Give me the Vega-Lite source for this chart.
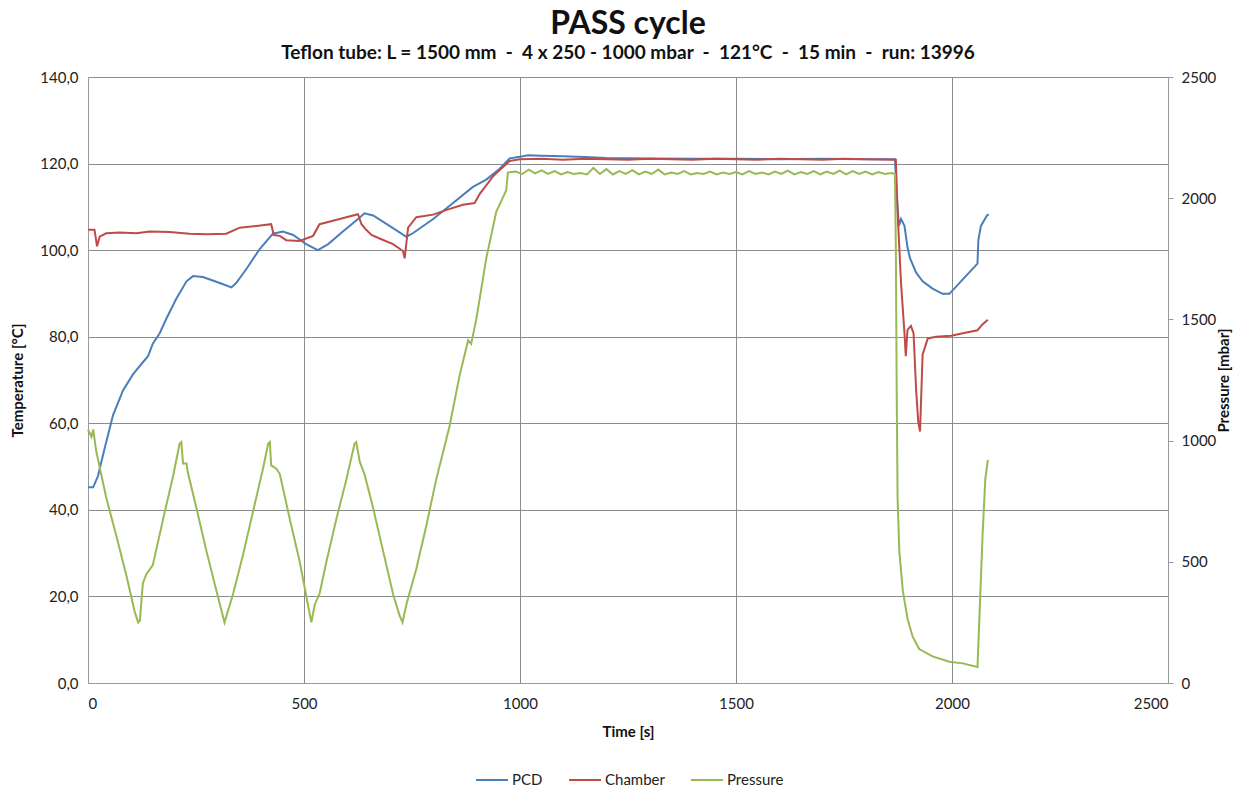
{
  "$schema": "https://vega.github.io/schema/vega-lite/v6.json",
  "width": 1080,
  "height": 606,
  "autosize": {"type": "none"},
  "padding": {"left": 88, "top": 77, "right": 87, "bottom": 108},
  "background": "white",
  "title": {
    "text": "PASS cycle",
    "subtitle": "Teflon tube: L = 1500 mm \u00a0-\u00a0 4 x 250 - 1000 mbar \u00a0-\u00a0 121°C \u00a0-\u00a0 15 min \u00a0-\u00a0 run: 13996",
    "font": "Lato",
    "fontSize": 32,
    "fontWeight": "bold",
    "color": "#111111",
    "subtitleFont": "Lato",
    "subtitleFontSize": 19,
    "subtitleFontWeight": "bold",
    "subtitleColor": "#111111",
    "anchor": "middle",
    "offset": 6,
    "subtitlePadding": 3
  },
  "config": {
    "view": {"stroke": null},
    "axis": {
      "labelFont": "Lato",
      "titleFont": "Lato",
      "labelFontSize": 15,
      "titleFontSize": 15,
      "titleFontWeight": "bold",
      "labelColor": "#222222",
      "titleColor": "#111111",
      "domainColor": "#9a9a9a",
      "gridColor": "#8c8c8c",
      "gridOpacity": 1,
      "tickColor": "#9a9a9a"
    },
    "legend": {
      "labelFont": "Lato",
      "labelFontSize": 15,
      "labelColor": "#222222"
    }
  },
  "data": {
    "values": [
      {"t": 0, "s": "PCD", "v": 45.2}, {"t": 12, "s": "PCD", "v": 45.2}, {"t": 23, "s": "PCD", "v": 47.8}, {"t": 39, "s": "PCD", "v": 54.4}, {"t": 58, "s": "PCD", "v": 61.9}, {"t": 81, "s": "PCD", "v": 67.6}, {"t": 104, "s": "PCD", "v": 71.3}, {"t": 127, "s": "PCD", "v": 74.1}, {"t": 139, "s": "PCD", "v": 75.5}, {"t": 150, "s": "PCD", "v": 78.4}, {"t": 166, "s": "PCD", "v": 80.8}, {"t": 181, "s": "PCD", "v": 84.1}, {"t": 204, "s": "PCD", "v": 88.7}, {"t": 228, "s": "PCD", "v": 92.8}, {"t": 243, "s": "PCD", "v": 94.0}, {"t": 266, "s": "PCD", "v": 93.8}, {"t": 305, "s": "PCD", "v": 92.4}, {"t": 332, "s": "PCD", "v": 91.4}, {"t": 343, "s": "PCD", "v": 92.4}, {"t": 367, "s": "PCD", "v": 95.7}, {"t": 397, "s": "PCD", "v": 100.2}, {"t": 428, "s": "PCD", "v": 103.8}, {"t": 451, "s": "PCD", "v": 104.3}, {"t": 475, "s": "PCD", "v": 103.5}, {"t": 505, "s": "PCD", "v": 101.4}, {"t": 532, "s": "PCD", "v": 100.0}, {"t": 556, "s": "PCD", "v": 101.4}, {"t": 590, "s": "PCD", "v": 104.3}, {"t": 625, "s": "PCD", "v": 107.2}, {"t": 640, "s": "PCD", "v": 108.5}, {"t": 660, "s": "PCD", "v": 108.0}, {"t": 698, "s": "PCD", "v": 105.6}, {"t": 737, "s": "PCD", "v": 103.1}, {"t": 752, "s": "PCD", "v": 103.9}, {"t": 799, "s": "PCD", "v": 107.2}, {"t": 845, "s": "PCD", "v": 110.9}, {"t": 891, "s": "PCD", "v": 114.6}, {"t": 922, "s": "PCD", "v": 116.3}, {"t": 953, "s": "PCD", "v": 118.8}, {"t": 976, "s": "PCD", "v": 121.2}, {"t": 1000, "s": "PCD", "v": 121.6}, {"t": 1019, "s": "PCD", "v": 121.9}, {"t": 1050, "s": "PCD", "v": 121.8}, {"t": 1100, "s": "PCD", "v": 121.7}, {"t": 1150, "s": "PCD", "v": 121.5}, {"t": 1200, "s": "PCD", "v": 121.3}, {"t": 1300, "s": "PCD", "v": 121.2}, {"t": 1400, "s": "PCD", "v": 121.1}, {"t": 1500, "s": "PCD", "v": 121.1}, {"t": 1600, "s": "PCD", "v": 121.0}, {"t": 1700, "s": "PCD", "v": 121.1}, {"t": 1800, "s": "PCD", "v": 121.0}, {"t": 1868, "s": "PCD", "v": 121.0}, {"t": 1872, "s": "PCD", "v": 113.0}, {"t": 1877, "s": "PCD", "v": 105.6}, {"t": 1882, "s": "PCD", "v": 107.2}, {"t": 1890, "s": "PCD", "v": 105.6}, {"t": 1897, "s": "PCD", "v": 100.6}, {"t": 1903, "s": "PCD", "v": 98.1}, {"t": 1917, "s": "PCD", "v": 94.8}, {"t": 1932, "s": "PCD", "v": 92.8}, {"t": 1955, "s": "PCD", "v": 91.1}, {"t": 1978, "s": "PCD", "v": 89.9}, {"t": 1994, "s": "PCD", "v": 89.9}, {"t": 2009, "s": "PCD", "v": 91.5}, {"t": 2032, "s": "PCD", "v": 94.0}, {"t": 2059, "s": "PCD", "v": 96.9}, {"t": 2061, "s": "PCD", "v": 102.3}, {"t": 2067, "s": "PCD", "v": 105.6}, {"t": 2081, "s": "PCD", "v": 108.0}, {"t": 2085, "s": "PCD", "v": 108.3},

      {"t": 0, "s": "Chamber", "v": 104.7}, {"t": 15, "s": "Chamber", "v": 104.7}, {"t": 21, "s": "Chamber", "v": 100.9}, {"t": 27, "s": "Chamber", "v": 103.1}, {"t": 42, "s": "Chamber", "v": 103.9}, {"t": 73, "s": "Chamber", "v": 104.1}, {"t": 112, "s": "Chamber", "v": 103.9}, {"t": 143, "s": "Chamber", "v": 104.3}, {"t": 189, "s": "Chamber", "v": 104.2}, {"t": 235, "s": "Chamber", "v": 103.8}, {"t": 274, "s": "Chamber", "v": 103.7}, {"t": 320, "s": "Chamber", "v": 103.8}, {"t": 351, "s": "Chamber", "v": 105.2}, {"t": 390, "s": "Chamber", "v": 105.6}, {"t": 424, "s": "Chamber", "v": 106.0}, {"t": 430, "s": "Chamber", "v": 103.5}, {"t": 444, "s": "Chamber", "v": 103.3}, {"t": 459, "s": "Chamber", "v": 102.3}, {"t": 490, "s": "Chamber", "v": 102.1}, {"t": 521, "s": "Chamber", "v": 103.3}, {"t": 536, "s": "Chamber", "v": 106.0}, {"t": 567, "s": "Chamber", "v": 106.8}, {"t": 598, "s": "Chamber", "v": 107.6}, {"t": 625, "s": "Chamber", "v": 108.3}, {"t": 633, "s": "Chamber", "v": 106.0}, {"t": 644, "s": "Chamber", "v": 104.7}, {"t": 656, "s": "Chamber", "v": 103.5}, {"t": 675, "s": "Chamber", "v": 102.7}, {"t": 706, "s": "Chamber", "v": 101.4}, {"t": 729, "s": "Chamber", "v": 99.8}, {"t": 733, "s": "Chamber", "v": 98.1}, {"t": 741, "s": "Chamber", "v": 105.2}, {"t": 760, "s": "Chamber", "v": 107.6}, {"t": 799, "s": "Chamber", "v": 108.2}, {"t": 830, "s": "Chamber", "v": 109.3}, {"t": 868, "s": "Chamber", "v": 110.5}, {"t": 895, "s": "Chamber", "v": 110.9}, {"t": 907, "s": "Chamber", "v": 113.0}, {"t": 938, "s": "Chamber", "v": 117.1}, {"t": 976, "s": "Chamber", "v": 120.6}, {"t": 1000, "s": "Chamber", "v": 121.0}, {"t": 1050, "s": "Chamber", "v": 121.1}, {"t": 1100, "s": "Chamber", "v": 120.9}, {"t": 1150, "s": "Chamber", "v": 121.1}, {"t": 1200, "s": "Chamber", "v": 121.0}, {"t": 1250, "s": "Chamber", "v": 120.9}, {"t": 1300, "s": "Chamber", "v": 121.1}, {"t": 1350, "s": "Chamber", "v": 121.0}, {"t": 1400, "s": "Chamber", "v": 120.9}, {"t": 1450, "s": "Chamber", "v": 121.1}, {"t": 1500, "s": "Chamber", "v": 121.0}, {"t": 1550, "s": "Chamber", "v": 120.9}, {"t": 1600, "s": "Chamber", "v": 121.1}, {"t": 1650, "s": "Chamber", "v": 121.0}, {"t": 1700, "s": "Chamber", "v": 120.9}, {"t": 1750, "s": "Chamber", "v": 121.1}, {"t": 1800, "s": "Chamber", "v": 121.0}, {"t": 1870, "s": "Chamber", "v": 120.9}, {"t": 1874, "s": "Chamber", "v": 108.9}, {"t": 1882, "s": "Chamber", "v": 92.4}, {"t": 1890, "s": "Chamber", "v": 80.8}, {"t": 1893, "s": "Chamber", "v": 75.5}, {"t": 1897, "s": "Chamber", "v": 81.6}, {"t": 1905, "s": "Chamber", "v": 82.5}, {"t": 1911, "s": "Chamber", "v": 80.8}, {"t": 1917, "s": "Chamber", "v": 67.6}, {"t": 1922, "s": "Chamber", "v": 60.2}, {"t": 1926, "s": "Chamber", "v": 58.1}, {"t": 1932, "s": "Chamber", "v": 75.9}, {"t": 1944, "s": "Chamber", "v": 79.6}, {"t": 1963, "s": "Chamber", "v": 80.0}, {"t": 1998, "s": "Chamber", "v": 80.2}, {"t": 2025, "s": "Chamber", "v": 80.8}, {"t": 2059, "s": "Chamber", "v": 81.5}, {"t": 2071, "s": "Chamber", "v": 82.9}, {"t": 2083, "s": "Chamber", "v": 83.9},

      {"t": 0, "s": "Pressure", "v": 1046}, {"t": 8, "s": "Pressure", "v": 1016}, {"t": 12, "s": "Pressure", "v": 1046}, {"t": 19, "s": "Pressure", "v": 957}, {"t": 42, "s": "Pressure", "v": 766}, {"t": 66, "s": "Pressure", "v": 604}, {"t": 89, "s": "Pressure", "v": 442}, {"t": 108, "s": "Pressure", "v": 295}, {"t": 116, "s": "Pressure", "v": 250}, {"t": 120, "s": "Pressure", "v": 258}, {"t": 127, "s": "Pressure", "v": 412}, {"t": 135, "s": "Pressure", "v": 449}, {"t": 150, "s": "Pressure", "v": 486}, {"t": 174, "s": "Pressure", "v": 677}, {"t": 197, "s": "Pressure", "v": 854}, {"t": 212, "s": "Pressure", "v": 987}, {"t": 216, "s": "Pressure", "v": 994}, {"t": 220, "s": "Pressure", "v": 906}, {"t": 228, "s": "Pressure", "v": 906}, {"t": 231, "s": "Pressure", "v": 869}, {"t": 251, "s": "Pressure", "v": 722}, {"t": 274, "s": "Pressure", "v": 545}, {"t": 297, "s": "Pressure", "v": 383}, {"t": 316, "s": "Pressure", "v": 250}, {"t": 336, "s": "Pressure", "v": 368}, {"t": 359, "s": "Pressure", "v": 530}, {"t": 382, "s": "Pressure", "v": 707}, {"t": 405, "s": "Pressure", "v": 884}, {"t": 417, "s": "Pressure", "v": 987}, {"t": 421, "s": "Pressure", "v": 994}, {"t": 424, "s": "Pressure", "v": 898}, {"t": 436, "s": "Pressure", "v": 884}, {"t": 444, "s": "Pressure", "v": 862}, {"t": 467, "s": "Pressure", "v": 677}, {"t": 490, "s": "Pressure", "v": 501}, {"t": 509, "s": "Pressure", "v": 324}, {"t": 517, "s": "Pressure", "v": 250}, {"t": 525, "s": "Pressure", "v": 324}, {"t": 536, "s": "Pressure", "v": 368}, {"t": 552, "s": "Pressure", "v": 501}, {"t": 575, "s": "Pressure", "v": 677}, {"t": 598, "s": "Pressure", "v": 839}, {"t": 617, "s": "Pressure", "v": 987}, {"t": 621, "s": "Pressure", "v": 994}, {"t": 629, "s": "Pressure", "v": 913}, {"t": 640, "s": "Pressure", "v": 862}, {"t": 660, "s": "Pressure", "v": 722}, {"t": 683, "s": "Pressure", "v": 545}, {"t": 706, "s": "Pressure", "v": 368}, {"t": 721, "s": "Pressure", "v": 280}, {"t": 728, "s": "Pressure", "v": 250}, {"t": 737, "s": "Pressure", "v": 324}, {"t": 760, "s": "Pressure", "v": 471}, {"t": 783, "s": "Pressure", "v": 648}, {"t": 806, "s": "Pressure", "v": 839}, {"t": 837, "s": "Pressure", "v": 1060}, {"t": 860, "s": "Pressure", "v": 1267}, {"t": 880, "s": "Pressure", "v": 1414}, {"t": 887, "s": "Pressure", "v": 1399}, {"t": 899, "s": "Pressure", "v": 1502}, {"t": 922, "s": "Pressure", "v": 1753}, {"t": 945, "s": "Pressure", "v": 1944}, {"t": 968, "s": "Pressure", "v": 2032}, {"t": 972, "s": "Pressure", "v": 2106}, {"t": 984, "s": "Pressure", "v": 2109},
      {"t": 990, "s": "Pressure", "v": 2110}, {"t": 1005, "s": "Pressure", "v": 2100}, {"t": 1020, "s": "Pressure", "v": 2118}, {"t": 1035, "s": "Pressure", "v": 2102}, {"t": 1050, "s": "Pressure", "v": 2115}, {"t": 1065, "s": "Pressure", "v": 2100}, {"t": 1080, "s": "Pressure", "v": 2112}, {"t": 1095, "s": "Pressure", "v": 2098}, {"t": 1110, "s": "Pressure", "v": 2108}, {"t": 1125, "s": "Pressure", "v": 2100}, {"t": 1140, "s": "Pressure", "v": 2104}, {"t": 1155, "s": "Pressure", "v": 2098}, {"t": 1170, "s": "Pressure", "v": 2125}, {"t": 1185, "s": "Pressure", "v": 2100}, {"t": 1200, "s": "Pressure", "v": 2120}, {"t": 1215, "s": "Pressure", "v": 2098}, {"t": 1230, "s": "Pressure", "v": 2112}, {"t": 1245, "s": "Pressure", "v": 2100}, {"t": 1260, "s": "Pressure", "v": 2116}, {"t": 1275, "s": "Pressure", "v": 2098}, {"t": 1290, "s": "Pressure", "v": 2110}, {"t": 1305, "s": "Pressure", "v": 2100}, {"t": 1320, "s": "Pressure", "v": 2118}, {"t": 1335, "s": "Pressure", "v": 2098}, {"t": 1350, "s": "Pressure", "v": 2106}, {"t": 1365, "s": "Pressure", "v": 2100}, {"t": 1380, "s": "Pressure", "v": 2112}, {"t": 1395, "s": "Pressure", "v": 2098}, {"t": 1410, "s": "Pressure", "v": 2104}, {"t": 1425, "s": "Pressure", "v": 2100}, {"t": 1440, "s": "Pressure", "v": 2110}, {"t": 1455, "s": "Pressure", "v": 2098}, {"t": 1470, "s": "Pressure", "v": 2106}, {"t": 1485, "s": "Pressure", "v": 2100}, {"t": 1500, "s": "Pressure", "v": 2108}, {"t": 1515, "s": "Pressure", "v": 2098}, {"t": 1530, "s": "Pressure", "v": 2112}, {"t": 1545, "s": "Pressure", "v": 2100}, {"t": 1560, "s": "Pressure", "v": 2106}, {"t": 1575, "s": "Pressure", "v": 2098}, {"t": 1590, "s": "Pressure", "v": 2110}, {"t": 1605, "s": "Pressure", "v": 2100}, {"t": 1620, "s": "Pressure", "v": 2114}, {"t": 1635, "s": "Pressure", "v": 2098}, {"t": 1650, "s": "Pressure", "v": 2108}, {"t": 1665, "s": "Pressure", "v": 2100}, {"t": 1680, "s": "Pressure", "v": 2112}, {"t": 1695, "s": "Pressure", "v": 2098}, {"t": 1710, "s": "Pressure", "v": 2110}, {"t": 1725, "s": "Pressure", "v": 2100}, {"t": 1740, "s": "Pressure", "v": 2114}, {"t": 1755, "s": "Pressure", "v": 2098}, {"t": 1770, "s": "Pressure", "v": 2112}, {"t": 1785, "s": "Pressure", "v": 2100}, {"t": 1800, "s": "Pressure", "v": 2110}, {"t": 1815, "s": "Pressure", "v": 2098}, {"t": 1830, "s": "Pressure", "v": 2108}, {"t": 1845, "s": "Pressure", "v": 2100}, {"t": 1860, "s": "Pressure", "v": 2104}, {"t": 1868, "s": "Pressure", "v": 2100},
      {"t": 1870, "s": "Pressure", "v": 1797}, {"t": 1872, "s": "Pressure", "v": 1208}, {"t": 1874, "s": "Pressure", "v": 766}, {"t": 1878, "s": "Pressure", "v": 545}, {"t": 1886, "s": "Pressure", "v": 383}, {"t": 1897, "s": "Pressure", "v": 265}, {"t": 1909, "s": "Pressure", "v": 191}, {"t": 1924, "s": "Pressure", "v": 140}, {"t": 1955, "s": "Pressure", "v": 110}, {"t": 1994, "s": "Pressure", "v": 88}, {"t": 2025, "s": "Pressure", "v": 81}, {"t": 2059, "s": "Pressure", "v": 66}, {"t": 2063, "s": "Pressure", "v": 250}, {"t": 2071, "s": "Pressure", "v": 619}, {"t": 2077, "s": "Pressure", "v": 839}, {"t": 2083, "s": "Pressure", "v": 920}
    ]
  },
  "layer": [
    {
      "transform": [{"filter": "datum.s !== 'Pressure'"}],
      "mark": {"type": "line", "strokeWidth": 2},
      "encoding": {
        "x": {
          "field": "t", "type": "quantitative",
          "scale": {"domain": [0, 2500], "nice": false},
          "axis": {"values": [0, 500, 1000, 1500, 2000, 2500], "format": "d", "grid": true, "ticks": false, "labelPadding": 13, "title": "Time [s]", "titlePadding": 13}
        },
        "y": {
          "field": "v", "type": "quantitative",
          "scale": {"domain": [0, 140], "nice": false},
          "axis": {"values": [0, 20, 40, 60, 80, 100, 120, 140], "grid": true, "ticks": false, "labelPadding": 10, "labelExpr": "replace(format(datum.value, '.1f'), '.', ',')", "title": "Temperature [°C]", "titlePadding": 14}
        },
        "color": {
          "field": "s", "type": "nominal",
          "scale": {"domain": ["PCD", "Chamber", "Pressure"], "range": ["#4a7ebb", "#be4b48", "#98b954"]},
          "legend": {"title": null, "orient": "none", "legendX": 387, "legendY": 686, "direction": "horizontal", "symbolType": "stroke", "symbolSize": 1024, "symbolStrokeWidth": 2, "columnPadding": 22, "labelOffset": 3}
        }
      }
    },
    {
      "transform": [{"filter": "datum.s === 'Pressure'"}],
      "mark": {"type": "line", "strokeWidth": 2},
      "encoding": {
        "x": {"field": "t", "type": "quantitative", "scale": {"domain": [0, 2500], "nice": false}},
        "y": {
          "field": "v", "type": "quantitative",
          "scale": {"domain": [0, 2500], "nice": false},
          "axis": {"orient": "right", "values": [0, 500, 1000, 1500, 2000, 2500], "format": "d", "grid": false, "ticks": true, "tickSize": 5, "labelPadding": 8, "title": "Pressure [mbar]", "titlePadding": 16, "titleAngle": 270}
        },
        "color": {"field": "s", "type": "nominal"}
      }
    }
  ],
  "resolve": {"scale": {"y": "independent"}}
}
